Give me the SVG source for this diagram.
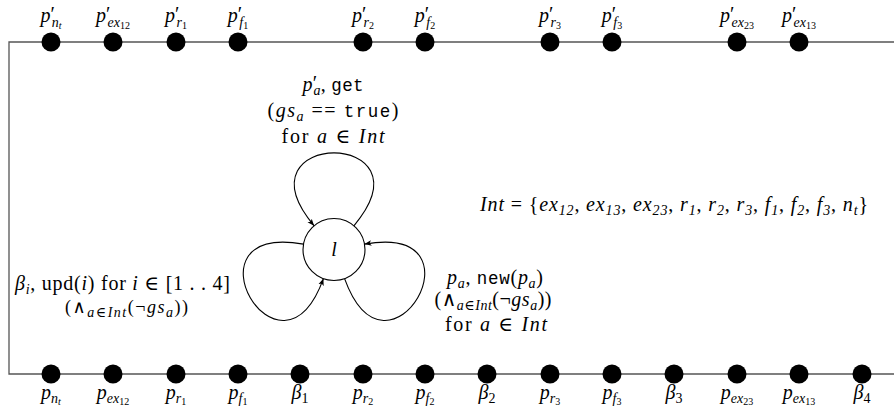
<svg xmlns="http://www.w3.org/2000/svg" width="894" height="419" viewBox="0 0 894 419">
<style>
.m{font-family:"Liberation Serif","DejaVu Serif",serif;font-size:20px;fill:#000}
.sm{font-size:18px}
.i{font-style:italic}
.o{font-family:"DejaVu Serif",serif;font-style:normal}
.tt{font-family:"Liberation Mono",monospace;font-size:17.5px}
.s{font-size:14px}
.ss{font-size:10px}
.dot{fill:#000}
.frame{fill:none;stroke:#555;stroke-width:1.3}
.edge{fill:none;stroke:#000;stroke-width:1.1}
.state{fill:#fff;stroke:#000;stroke-width:1.1}
</style>
<defs>
<marker id="arr" viewBox="0 0 10 10" refX="10" refY="5" markerWidth="7" markerHeight="7" orient="auto" markerUnits="userSpaceOnUse">
<path d="M0,1 L10,5 L0,9 L2.5,5 z" fill="#000"/>
</marker>
</defs>
<rect width="894" height="419" fill="#fff"/>
<g id="frame">
<polyline class="frame" points="894,42 9,42 9,374 894,374"/>
</g>
<g id="connectors">
<path id="loop-top" class="edge" marker-end="url(#arr)" d="M353.9,225.8 C435.5,128.5 232.5,128.5 314.1,225.8"/>
<path id="loop-left" class="edge" marker-end="url(#arr)" transform="rotate(-120 334 249.5)" d="M353.9,225.8 C435.5,128.5 232.5,128.5 314.1,225.8"/>
<path id="loop-right" class="edge" marker-end="url(#arr)" transform="rotate(120 334 249.5)" d="M353.9,225.8 C435.5,128.5 232.5,128.5 314.1,225.8"/>
<text class="m" x="333" y="91" text-anchor="middle" textLength="61" lengthAdjust="spacing"><tspan class="i">p</tspan><tspan dy="-1">′</tspan><tspan class="i s" dx="-4" dy="5">a</tspan><tspan dy="-4">, </tspan><tspan class="tt">get</tspan></text>
<text class="m" x="333" y="117" text-anchor="middle" textLength="131" lengthAdjust="spacing">(<tspan class="i">gs</tspan><tspan class="i s" dy="4">a</tspan><tspan dy="-4"> == </tspan><tspan class="tt">true</tspan>)</text>
<text class="m" x="333" y="143" text-anchor="middle" textLength="103" lengthAdjust="spacing">for <tspan class="i">a</tspan> <tspan class="o">∈</tspan> <tspan class="i">Int</tspan></text>
<text class="m" x="495" y="284" text-anchor="middle" textLength="96" lengthAdjust="spacing"><tspan class="i">p</tspan><tspan class="i s" dy="4">a</tspan><tspan dy="-4">, </tspan><tspan class="tt">new</tspan>(<tspan class="i">p</tspan><tspan class="i s" dy="4">a</tspan><tspan dy="-4">)</tspan></text>
<text class="m" x="493" y="306" text-anchor="middle" textLength="117" lengthAdjust="spacing">(<tspan class="o">∧</tspan><tspan class="i s" dy="4">a∈Int</tspan><tspan dy="-4">(¬</tspan><tspan class="i">gs</tspan><tspan class="i s" dy="4">a</tspan><tspan dy="-4">))</tspan></text>
<text class="m" x="496" y="331" text-anchor="middle" textLength="102" lengthAdjust="spacing">for <tspan class="i">a</tspan> <tspan class="o">∈</tspan> <tspan class="i">Int</tspan></text>
<text class="m" x="122.5" y="290" text-anchor="middle" textLength="215" lengthAdjust="spacing"><tspan class="i">β</tspan><tspan class="i s" dy="4">i</tspan><tspan dy="-4">, upd(</tspan><tspan class="i">i</tspan>) for <tspan class="i">i</tspan> <tspan class="o">∈</tspan> [1 . . 4]</text>
<text class="m sm" x="126.5" y="313" text-anchor="middle" textLength="123" lengthAdjust="spacing">(<tspan class="o">∧</tspan><tspan class="i s" dy="4">a∈Int</tspan><tspan dy="-4">(¬</tspan><tspan class="i">gs</tspan><tspan class="i s" dy="4">a</tspan><tspan dy="-4">))</tspan></text>
</g>
<g id="node-l">
<circle class="state" cx="334" cy="249.5" r="31"/>
<text class="m i" x="334" y="256" text-anchor="middle">l</text>
</g>
<g id="int-def">
<text class="m" x="480" y="211" textLength="388" lengthAdjust="spacing"><tspan class="i">Int</tspan> = {<tspan class="i">ex</tspan><tspan class="i s" dy="4">12</tspan><tspan dy="-4">, </tspan><tspan class="i">ex</tspan><tspan class="i s" dy="4">13</tspan><tspan dy="-4">, </tspan><tspan class="i">ex</tspan><tspan class="i s" dy="4">23</tspan><tspan dy="-4">, </tspan><tspan class="i">r</tspan><tspan class="i s" dy="4">1</tspan><tspan dy="-4">, </tspan><tspan class="i">r</tspan><tspan class="i s" dy="4">2</tspan><tspan dy="-4">, </tspan><tspan class="i">r</tspan><tspan class="i s" dy="4">3</tspan><tspan dy="-4">, </tspan><tspan class="i">f</tspan><tspan class="i s" dy="4">1</tspan><tspan dy="-4">, </tspan><tspan class="i">f</tspan><tspan class="i s" dy="4">2</tspan><tspan dy="-4">, </tspan><tspan class="i">f</tspan><tspan class="i s" dy="4">3</tspan><tspan dy="-4">, </tspan><tspan class="i">n</tspan><tspan class="i s" dy="4">t</tspan><tspan dy="-4">}</tspan></text>
</g>
<g id="top-ports">
<g id="tp-nt"><circle class="dot" cx="51" cy="42" r="9.5"/><text class="m" x="51" y="22" text-anchor="middle"><tspan class="i">p</tspan><tspan dy="-1">′</tspan><tspan class="i s" dx="-3" dy="6">n</tspan><tspan class="i ss" dy="2">t</tspan></text></g>
<g id="tp-ex12"><circle class="dot" cx="113" cy="42" r="9.5"/><text class="m" x="113" y="22" text-anchor="middle"><tspan class="i">p</tspan><tspan dy="-1">′</tspan><tspan class="i s" dx="-3" dy="6">ex</tspan><tspan class="ss" dy="2">12</tspan></text></g>
<g id="tp-r1"><circle class="dot" cx="176" cy="42" r="9.5"/><text class="m" x="176" y="22" text-anchor="middle"><tspan class="i">p</tspan><tspan dy="-1">′</tspan><tspan class="i s" dx="-3" dy="6">r</tspan><tspan class="ss" dy="2">1</tspan></text></g>
<g id="tp-f1"><circle class="dot" cx="238" cy="42" r="9.5"/><text class="m" x="238" y="22" text-anchor="middle"><tspan class="i">p</tspan><tspan dy="-1">′</tspan><tspan class="i s" dx="-3" dy="6">f</tspan><tspan class="ss" dy="2">1</tspan></text></g>
<g id="tp-r2"><circle class="dot" cx="363" cy="42" r="9.5"/><text class="m" x="363" y="22" text-anchor="middle"><tspan class="i">p</tspan><tspan dy="-1">′</tspan><tspan class="i s" dx="-3" dy="6">r</tspan><tspan class="ss" dy="2">2</tspan></text></g>
<g id="tp-f2"><circle class="dot" cx="425" cy="42" r="9.5"/><text class="m" x="425" y="22" text-anchor="middle"><tspan class="i">p</tspan><tspan dy="-1">′</tspan><tspan class="i s" dx="-3" dy="6">f</tspan><tspan class="ss" dy="2">2</tspan></text></g>
<g id="tp-r3"><circle class="dot" cx="550" cy="42" r="9.5"/><text class="m" x="550" y="22" text-anchor="middle"><tspan class="i">p</tspan><tspan dy="-1">′</tspan><tspan class="i s" dx="-3" dy="6">r</tspan><tspan class="ss" dy="2">3</tspan></text></g>
<g id="tp-f3"><circle class="dot" cx="612" cy="42" r="9.5"/><text class="m" x="612" y="22" text-anchor="middle"><tspan class="i">p</tspan><tspan dy="-1">′</tspan><tspan class="i s" dx="-3" dy="6">f</tspan><tspan class="ss" dy="2">3</tspan></text></g>
<g id="tp-ex23"><circle class="dot" cx="737" cy="42" r="9.5"/><text class="m" x="737" y="22" text-anchor="middle"><tspan class="i">p</tspan><tspan dy="-1">′</tspan><tspan class="i s" dx="-3" dy="6">ex</tspan><tspan class="ss" dy="2">23</tspan></text></g>
<g id="tp-ex13"><circle class="dot" cx="799" cy="42" r="9.5"/><text class="m" x="799" y="22" text-anchor="middle"><tspan class="i">p</tspan><tspan dy="-1">′</tspan><tspan class="i s" dx="-3" dy="6">ex</tspan><tspan class="ss" dy="2">13</tspan></text></g>
</g>
<g id="bottom-ports">
<g id="bp-nt"><circle class="dot" cx="51" cy="374" r="9.5"/><text class="m" x="51" y="399" text-anchor="middle"><tspan class="i">p</tspan><tspan class="i s" dy="4">n</tspan><tspan class="i ss" dy="2">t</tspan></text></g>
<g id="bp-ex12"><circle class="dot" cx="113" cy="374" r="9.5"/><text class="m" x="113" y="399" text-anchor="middle"><tspan class="i">p</tspan><tspan class="i s" dy="4">ex</tspan><tspan class="ss" dy="2">12</tspan></text></g>
<g id="bp-r1"><circle class="dot" cx="176" cy="374" r="9.5"/><text class="m" x="176" y="399" text-anchor="middle"><tspan class="i">p</tspan><tspan class="i s" dy="4">r</tspan><tspan class="ss" dy="2">1</tspan></text></g>
<g id="bp-f1"><circle class="dot" cx="238" cy="374" r="9.5"/><text class="m" x="238" y="399" text-anchor="middle"><tspan class="i">p</tspan><tspan class="i s" dy="4">f</tspan><tspan class="ss" dy="2">1</tspan></text></g>
<g id="bp-b1"><circle class="dot" cx="300" cy="374" r="9.5"/><text class="m" x="300" y="399" text-anchor="middle"><tspan class="i">β</tspan><tspan class="s" dy="4">1</tspan></text></g>
<g id="bp-r2"><circle class="dot" cx="363" cy="374" r="9.5"/><text class="m" x="363" y="399" text-anchor="middle"><tspan class="i">p</tspan><tspan class="i s" dy="4">r</tspan><tspan class="ss" dy="2">2</tspan></text></g>
<g id="bp-f2"><circle class="dot" cx="425" cy="374" r="9.5"/><text class="m" x="425" y="399" text-anchor="middle"><tspan class="i">p</tspan><tspan class="i s" dy="4">f</tspan><tspan class="ss" dy="2">2</tspan></text></g>
<g id="bp-b2"><circle class="dot" cx="487" cy="374" r="9.5"/><text class="m" x="487" y="399" text-anchor="middle"><tspan class="i">β</tspan><tspan class="s" dy="4">2</tspan></text></g>
<g id="bp-r3"><circle class="dot" cx="550" cy="374" r="9.5"/><text class="m" x="550" y="399" text-anchor="middle"><tspan class="i">p</tspan><tspan class="i s" dy="4">r</tspan><tspan class="ss" dy="2">3</tspan></text></g>
<g id="bp-f3"><circle class="dot" cx="612" cy="374" r="9.5"/><text class="m" x="612" y="399" text-anchor="middle"><tspan class="i">p</tspan><tspan class="i s" dy="4">f</tspan><tspan class="ss" dy="2">3</tspan></text></g>
<g id="bp-b3"><circle class="dot" cx="674" cy="374" r="9.5"/><text class="m" x="674" y="399" text-anchor="middle"><tspan class="i">β</tspan><tspan class="s" dy="4">3</tspan></text></g>
<g id="bp-ex23"><circle class="dot" cx="737" cy="374" r="9.5"/><text class="m" x="737" y="399" text-anchor="middle"><tspan class="i">p</tspan><tspan class="i s" dy="4">ex</tspan><tspan class="ss" dy="2">23</tspan></text></g>
<g id="bp-ex13"><circle class="dot" cx="799" cy="374" r="9.5"/><text class="m" x="799" y="399" text-anchor="middle"><tspan class="i">p</tspan><tspan class="i s" dy="4">ex</tspan><tspan class="ss" dy="2">13</tspan></text></g>
<g id="bp-b4"><circle class="dot" cx="862" cy="374" r="9.5"/><text class="m" x="862" y="399" text-anchor="middle"><tspan class="i">β</tspan><tspan class="s" dy="4">4</tspan></text></g>
</g>
</svg>
